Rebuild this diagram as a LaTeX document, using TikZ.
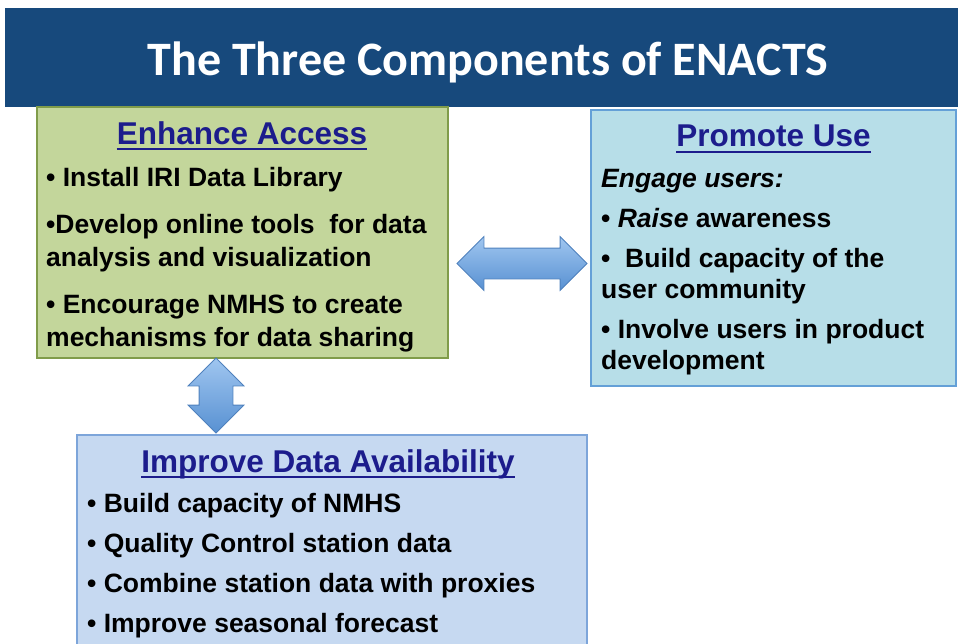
\documentclass[tikz,border=0pt]{standalone}
\usepackage{fontspec}
\setmainfont{Liberation Sans}
\newfontfamily\titlefont{Carlito}
\usetikzlibrary{shapes.arrows}
\definecolor{barblue}{RGB}{23,73,124}
\definecolor{headnavy}{RGB}{28,28,140}
\definecolor{accessfill}{RGB}{195,214,155}
\definecolor{accessline}{RGB}{128,156,74}
\definecolor{usefill}{RGB}{183,222,232}
\definecolor{useline}{RGB}{100,160,215}
\definecolor{availfill}{RGB}{198,217,241}
\definecolor{availline}{RGB}{125,165,218}
\definecolor{arrowtop}{RGB}{160,198,240}
\definecolor{arrowbot}{RGB}{88,145,210}
\definecolor{arrowline}{RGB}{79,129,189}
\begin{document}
\begin{tikzpicture}[x=1pt,y=-1pt,
  box/.style={draw,line width=1.2pt,rectangle,inner sep=0pt},
  head/.style={anchor=base,text=headnavy,font=\fontsize{31.5}{36}\selectfont\bfseries,inner sep=0pt},
  item/.style={anchor=base west,font=\fontsize{26.5}{32}\selectfont\bfseries,inner sep=0pt},
  uline/.style={headnavy,line width=1.8pt},
  blockarrow/.style={double arrow,draw=arrowline,line width=0.8pt,top color=arrowtop,bottom color=arrowbot,
    minimum width=0pt}]
\useasboundingbox (0,0) rectangle (958,643);
\fill[barblue] (5,8) rectangle (958,107);
\node[anchor=base,text=white,font=\fontsize{48}{52}\selectfont\titlefont\bfseries] (title) at (488,75) {The Three Components of ENACTS};

\node[box,draw=accessline,fill=accessfill,minimum width=411pt,minimum height=251pt] (access) at (242.5,232.5) {};
\node[box,draw=useline,fill=usefill,minimum width=365pt,minimum height=276pt] (use) at (773.5,248) {};
\node[box,draw=availline,fill=availfill,minimum width=510pt,minimum height=216pt] (avail) at (332,543) {};

\node[blockarrow,inner sep=15pt,double arrow head extend=11.5pt,minimum height=130pt] (arrowh) at (522,263.5) {};
\node[blockarrow,inner sep=16.5pt,double arrow head extend=11pt,shape border rotate=90,minimum height=75pt] (arrowv) at (216,395.5) {};

\node[head] (eahead) at (242,144) {Enhance Access};
\draw[uline] ([yshift=-5pt]eahead.base west) -- ([yshift=-5pt]eahead.base east);
\node[item] (ea1) at (46,186) {• Install IRI Data Library};
\node[item] (ea2) at (46,233) {•Develop online tools\ \ for data};
\node[item] (ea3) at (46,266) {analysis and visualization};
\node[item] (ea4) at (46,313) {• Encourage NMHS to create};
\node[item] (ea5) at (46,346) {mechanisms for data sharing};

\node[head] (puhead) at (773.5,146) {Promote Use};
\draw[uline] ([yshift=-6pt]puhead.base west) -- ([yshift=-6pt]puhead.base east);
\node[item] (pu1) at (601,187) {\itshape Engage users:};
\node[item] (pu2) at (601,227) {• \textit{Raise} awareness};
\node[item] (pu3) at (601,267) {•\ \ Build capacity of the};
\node[item] (pu4) at (601,298) {user community};
\node[item] (pu5) at (601,338) {• Involve users in product};
\node[item] (pu6) at (601,369) {development};

\node[head] (dahead) at (328,472) {Improve Data Availability};
\draw[uline] ([yshift=-5pt]dahead.base west) -- ([yshift=-5pt]dahead.base east);
\node[item] (da1) at (87,512) {• Build capacity of NMHS};
\node[item] (da2) at (87,552) {• Quality Control station data};
\node[item] (da3) at (87,592) {• Combine station data with proxies};
\node[item] (da4) at (87,632) {• Improve seasonal forecast};
\end{tikzpicture}
\end{document}
